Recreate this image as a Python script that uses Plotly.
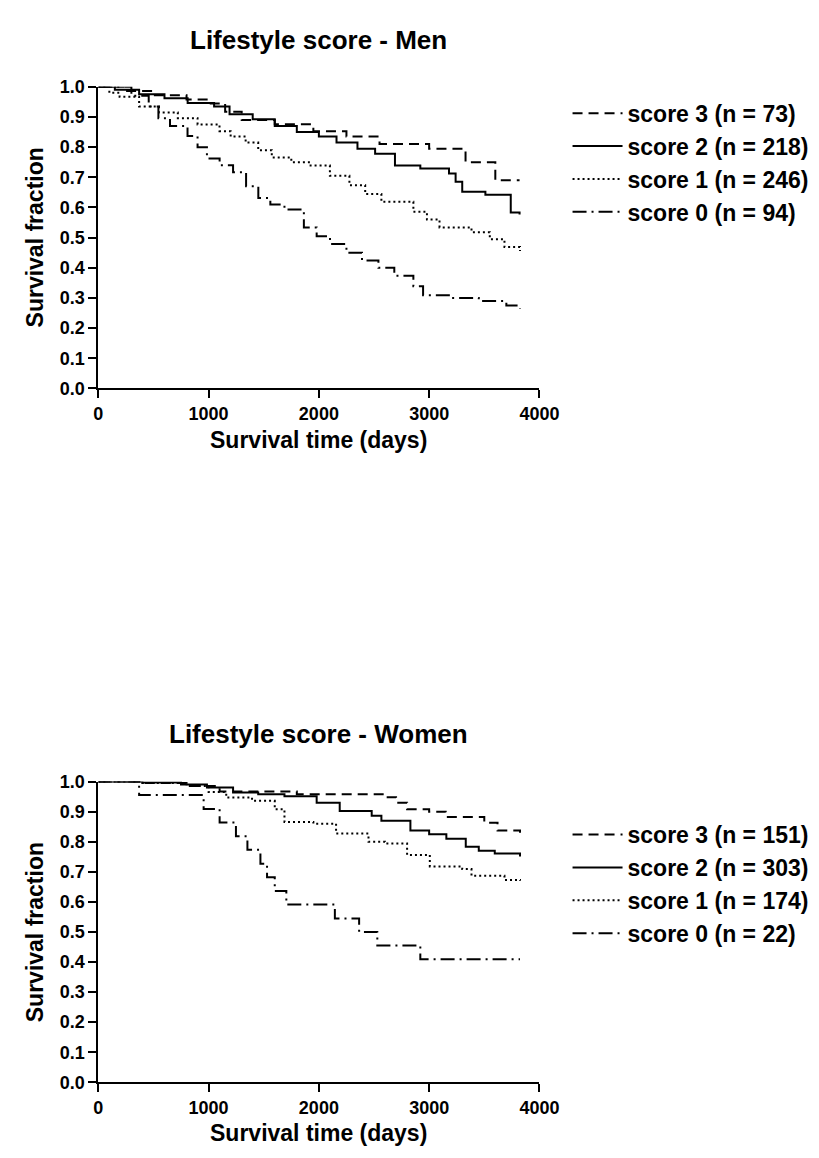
import plotly.graph_objects as go

# ---------------- data ----------------
men_labels = ["score 3 (n = 73)", "score 2 (n = 218)", "score 1 (n = 246)", "score 0 (n = 94)"]
women_labels = ["score 3 (n = 151)", "score 2 (n = 303)", "score 1 (n = 174)", "score 0 (n = 22)"]

men_s3_t = [0, 250, 500, 800, 1000, 1150, 1300, 1600, 1950, 2250, 2550, 3000, 3330, 3600, 3820]
men_s3_s = [1.0, 0.986, 0.972, 0.958, 0.945, 0.917, 0.89, 0.876, 0.853, 0.835, 0.81, 0.795, 0.75, 0.69, 0.69]

men_s2_t = [0, 150, 370, 600, 810, 1050, 1190, 1400, 1600, 1800, 2000, 2160, 2350, 2510, 2690, 2920, 3180, 3240, 3300, 3510, 3740, 3820]
men_s2_s = [1.0, 0.99, 0.975, 0.962, 0.946, 0.935, 0.909, 0.892, 0.87, 0.85, 0.835, 0.815, 0.795, 0.778, 0.739, 0.729, 0.713, 0.685, 0.652, 0.642, 0.583, 0.577]

men_s1_t = [0, 100, 193, 370, 550, 721, 900, 1099, 1200, 1336, 1450, 1573, 1750, 1925, 2100, 2277, 2420, 2567, 2857, 2980, 3094, 3384, 3550, 3683, 3824]
men_s1_s = [1.0, 0.98, 0.967, 0.935, 0.915, 0.896, 0.875, 0.853, 0.835, 0.815, 0.79, 0.766, 0.75, 0.739, 0.705, 0.674, 0.645, 0.619, 0.586, 0.56, 0.534, 0.518, 0.495, 0.469, 0.456]

men_s0_t = [0, 300, 457, 545, 650, 809, 900, 985, 1100, 1222, 1340, 1451, 1560, 1688, 1864, 1980, 2101, 2250, 2391, 2540, 2684, 2857, 2945, 3200, 3450, 3700, 3824]
men_s0_s = [1.0, 0.97, 0.935, 0.896, 0.87, 0.837, 0.8, 0.762, 0.74, 0.717, 0.67, 0.631, 0.61, 0.593, 0.534, 0.505, 0.479, 0.45, 0.424, 0.4, 0.374, 0.339, 0.309, 0.3, 0.29, 0.275, 0.265]

wom_s3_t = [0, 400, 800, 1100, 1800, 2600, 2700, 2800, 3000, 3150, 3500, 3620, 3824]
wom_s3_s = [1.0, 0.995, 0.985, 0.967, 0.958, 0.948, 0.93, 0.908, 0.9, 0.882, 0.863, 0.837, 0.83]

wom_s2_t = [0, 400, 750, 985, 1222, 1450, 1688, 1980, 2189, 2479, 2567, 2830, 3000, 3156, 3332, 3450, 3595, 3824]
wom_s2_s = [1.0, 0.997, 0.99, 0.98, 0.964, 0.958, 0.951, 0.93, 0.902, 0.886, 0.87, 0.837, 0.825, 0.81, 0.783, 0.77, 0.761, 0.751]

wom_s1_t = [0, 400, 800, 1000, 1160, 1394, 1600, 1688, 1950, 2156, 2450, 2600, 2800, 3006, 3300, 3384, 3683, 3824]
wom_s1_s = [1.0, 0.995, 0.985, 0.965, 0.947, 0.936, 0.908, 0.866, 0.86, 0.827, 0.8, 0.794, 0.756, 0.718, 0.709, 0.687, 0.673, 0.67]

wom_s0_t = [0, 370, 955, 1100, 1248, 1352, 1470, 1530, 1600, 1705, 2145, 2365, 2530, 2920, 3824]
wom_s0_s = [1.0, 0.955, 0.909, 0.864, 0.818, 0.773, 0.727, 0.682, 0.636, 0.591, 0.545, 0.5, 0.455, 0.409, 0.409]

x_ticks = [0, 1000, 2000, 3000, 4000]
y_ticks = [0.0, 0.1, 0.2, 0.3, 0.4, 0.5, 0.6, 0.7, 0.8, 0.9, 1.0]

# ---------------- styles ----------------
W, H = 819, 1158
FONT = "Liberation Sans, Arial, sans-serif"
dashes = ["10px,6px", "solid", "2px,3px", "14px,5px,2px,5px"]

fig = go.Figure()

men = [(men_s3_t, men_s3_s), (men_s2_t, men_s2_s), (men_s1_t, men_s1_s), (men_s0_t, men_s0_s)]
wom = [(wom_s3_t, wom_s3_s), (wom_s2_t, wom_s2_s), (wom_s1_t, wom_s1_s), (wom_s0_t, wom_s0_s)]

for i, ((t, s), lab) in enumerate(zip(men, men_labels)):
    fig.add_trace(go.Scatter(x=t, y=s, mode="lines", line=dict(color="black", width=2, dash=dashes[i], shape="hv"),
                             name=lab, legend="legend", xaxis="x", yaxis="y"))
for i, ((t, s), lab) in enumerate(zip(wom, women_labels)):
    fig.add_trace(go.Scatter(x=t, y=s, mode="lines", line=dict(color="black", width=2, dash=dashes[i], shape="hv"),
                             name=lab, legend="legend2", xaxis="x2", yaxis="y2"))

xdom = [88 / W, 543 / W]
ytop = [1 - 377 / H, 1 - 70 / H]
ybot = [1 - 1083 / H, 1 - 777 / H]

axis_common = dict(showline=True, linecolor="black", linewidth=2, ticks="outside", ticklen=8, tickwidth=2,
                   tickcolor="black", showgrid=False, zeroline=False,
                   tickfont=dict(family=FONT, size=18, color="black", weight="bold"))

leg_font = dict(family=FONT, size=23, color="black", weight="bold")
fig.update_layout(
    width=W, height=H, margin=dict(l=0, r=0, t=0, b=0),
    paper_bgcolor="white", plot_bgcolor="white",
    xaxis=dict(domain=xdom, range=[0, 4000], tickvals=x_ticks, anchor="y", **axis_common),
    yaxis=dict(domain=ytop, range=[0, 1], tickvals=y_ticks, tickformat=".1f", anchor="x", **axis_common),
    xaxis2=dict(domain=xdom, range=[0, 4000], tickvals=x_ticks, anchor="y2", **axis_common),
    yaxis2=dict(domain=ybot, range=[0, 1], tickvals=y_ticks, tickformat=".1f", anchor="x2", **axis_common),
    legend=dict(x=572 / W, y=1 - 75 / H, xanchor="left", yanchor="top", itemwidth=50,
                bgcolor="rgba(0,0,0,0)", font=leg_font),
    legend2=dict(x=572 / W, y=1 - 809 / H, xanchor="left", yanchor="top", itemwidth=50,
                 bgcolor="rgba(0,0,0,0)", font=leg_font),
)

ann_font_title = dict(family=FONT, size=26, color="black", weight="bold")
ann_font_axis = dict(family=FONT, size=23, color="black", weight="bold")
xc = (xdom[0] + xdom[1]) / 2
for title, ytitle_px in [("Lifestyle score - Men", 22), ("Lifestyle score - Women", 729)]:
    fig.add_annotation(text=title, x=xc, y=1 - ytitle_px / H, xref="paper", yref="paper",
                       showarrow=False, font=ann_font_title, xanchor="center", yanchor="middle")
for xt_px, yt_px in [(429, 223), (1135, 930)]:
    fig.add_annotation(text="Survival time (days)", x=xc, y=1 - xt_px / H, xref="paper", yref="paper",
                       showarrow=False, font=ann_font_axis, xanchor="center", yanchor="middle")
    fig.add_annotation(text="Survival fraction", x=23 / W, y=1 - yt_px / H, xref="paper", yref="paper",
                       showarrow=False, font=ann_font_axis, textangle=-90, xanchor="center", yanchor="middle")

fig.write_html("out.html")
